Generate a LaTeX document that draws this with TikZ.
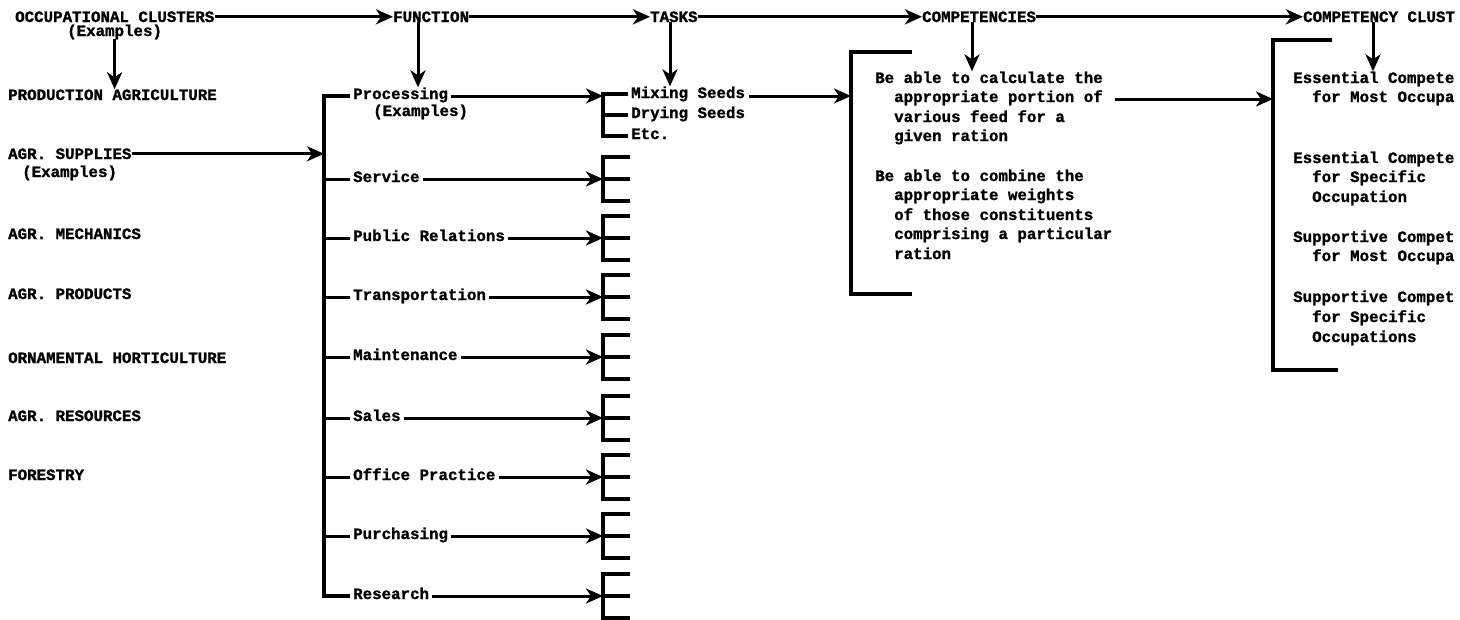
\documentclass[tikz,border=0pt]{standalone}
\usepackage{fontspec}
\newfontfamily\twfont{Liberation Mono}[BoldFeatures={FakeBold=1.3}]
\usetikzlibrary{arrows.meta,calc}
\begin{document}
\begin{tikzpicture}[x=1pt,y=-1pt,
  txt/.style={font=\twfont\bfseries\fontsize{15.8}{19.6}\selectfont, inner sep=0pt, anchor=base west},
  ln/.style={line width=3pt},
  arr/.style={line width=3pt, -{Stealth[length=17pt,width=15pt,inset=5pt]}},
  brk/.style={line width=3.2pt}]
\useasboundingbox (0,0) rectangle (1460,619);
\clip (0,0) rectangle (1460,619);
% header row
\node[txt] (occ) at (15,22) {OCCUPATIONAL CLUSTERS};
\node[txt] (occex) at (67,36) {(Examples)};
\node[txt] (func) at (393,22) {FUNCTION};
\node[txt] (tasks) at (650,22) {TASKS};
\node[txt] (comp) at (922,22) {COMPETENCIES};
\node[txt] (cc) at (1303,22) {COMPETENCY CLUST};
\draw[arr] (occ.east) -- (func.west);
\draw[arr] (func.east) -- (tasks.west);
\draw[arr] (tasks.east) -- (comp.west);
\draw[arr] (comp.east) -- (cc.west);
% occupational clusters
\node[txt] (prod) at (8,100) {PRODUCTION AGRICULTURE};
\node[txt] (sup) at (8,159) {AGR. SUPPLIES};
\node[txt] (supex) at (22,177) {(Examples)};
\node[txt] (mech) at (8,239) {AGR. MECHANICS};
\node[txt] (prods) at (8,299) {AGR. PRODUCTS};
\node[txt] (orn) at (8,363) {ORNAMENTAL HORTICULTURE};
\node[txt] (resc) at (8,421) {AGR. RESOURCES};
\node[txt] (forest) at (8,480) {FORESTRY};
\draw[arr] (occex.south) -- (occex.south |- prod.north);
% function column
\coordinate (fbar) at (324,0);
\coordinate (fd) at (418,0);
\node[txt] (proc) at (353,99) {Processing};
\node[txt] (procex) at (373,116) {(Examples)};
\draw[arr] (fd |- func.south) -- (fd |- proc.north);
\draw[brk] ([xshift=-3pt,yshift=3pt]proc.base west) -- (324,96) -- (324,596) -- (350,596);
\draw[arr] (sup.east) -- (sup.east -| fbar);
\foreach \n/\t/\y in {serv/Service/179, pubr/Public Relations/238, trans/Transportation/297, maint/Maintenance/357, sales/Sales/418, office/Office Practice/477, purch/Purchasing/536, res/Research/596} {
  \node[txt] (\n) at (353,\y+3) {\t};
  \coordinate (\n b) at (603,\y);
  \draw[ln] (324,\y) -- ([xshift=-3pt,yshift=3pt]\n.base west);
  \draw[arr] ([xshift=3pt,yshift=3pt]\n.base east) -- (\n b);
  \draw[brk] (630,\y-22) -- (603,\y-22) -- (603,\y+22) -- (630,\y+22);
  \draw[brk] (603,\y) -- (630,\y);
}
% tasks
\coordinate (td) at (670,0);
\node[txt] (mix) at (631,98) {Mixing Seeds};
\node[txt] (dry) at (631,118) {Drying Seeds};
\node[txt] (etc) at (631,139) {Etc.};
\coordinate (procb) at (603,96);
\draw[arr] ([xshift=3pt,yshift=3pt]proc.base east) -- (procb);
\draw[brk] (628,94) -- (603,94) -- (603,136) -- (628,136);
\draw[brk] (603,115) -- (628,115);
\draw[arr] (td |- tasks.south) -- (td |- mix.north);
% competencies
\coordinate (cbar) at (851,0);
\coordinate (cd) at (972,0);
\node[txt] (c1) at (875,83) {Be able to calculate the};
\node[txt] (c2) at (894,102) {appropriate portion of};
\node[txt] (c3) at (894,122) {various feed for a};
\node[txt] (c4) at (894,141) {given ration};
\node[txt] (c5) at (875,181) {Be able to combine the};
\node[txt] (c6) at (894,200) {appropriate weights};
\node[txt] (c7) at (894,220) {of those constituents};
\node[txt] (c8) at (894,239) {comprising a particular};
\node[txt] (c9) at (894,259) {ration};
\draw[brk] (912,52) -- (851,52) -- (851,294) -- (912,294);
\draw[arr] ([xshift=4pt,yshift=2pt]mix.base east) -- ([yshift=2pt]mix.base east -| cbar);
\draw[arr] (cd |- comp.south) -- (cd |- c1.north);
% competency clusters
\coordinate (kbar) at (1273,0);
\coordinate (kd) at (1373,0);
\node[txt] (k1) at (1293,83) {Essential Compete};
\node[txt] (k2) at (1312,102) {for Most Occupa};
\node[txt] (k3) at (1293,163) {Essential Compete};
\node[txt] (k4) at (1312,182) {for Specific};
\node[txt] (k5) at (1312,202) {Occupation};
\node[txt] (k6) at (1293,242) {Supportive Compet};
\node[txt] (k7) at (1312,261) {for Most Occupa};
\node[txt] (k8) at (1293,302) {Supportive Compet};
\node[txt] (k9) at (1312,322) {for Specific};
\node[txt] (k10) at (1312,342) {Occupations};
\draw[brk] (1332,40) -- (1273,40) -- (1273,370) -- (1338,370);
\draw[arr] ([xshift=12pt,yshift=3pt]c2.base east) -- ([yshift=3pt]c2.base east -| kbar);
\draw[arr] (kd |- cc.south) -- (kd |- k1.north);
\end{tikzpicture}
\end{document}
